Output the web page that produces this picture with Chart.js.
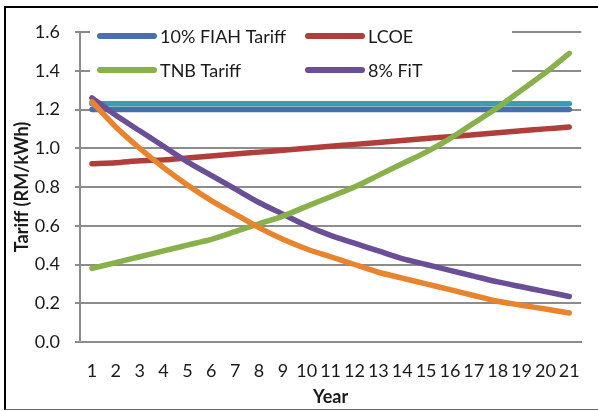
<!DOCTYPE html>
<html lang="en">
<head>
  <meta charset="UTF-8">
  <title>Tariff by Year</title>
  <style>
    body { margin: 0; background: #fff; }
    #wrap { position: relative; width: 598px; height: 411px; overflow: hidden; }
    /* outer frame: black left/top, grey bottom, open on the right */
    #frame {
      position: absolute; left: 4px; top: 6px; width: 600px; height: 401px;
      border-left: 2px solid #000; border-top: 2px solid #000; border-bottom: 1px solid #666;
      pointer-events: none;
    }
  </style>
</head>
<body>
  <div id="wrap">
    <canvas id="tariffChart" width="598" height="411"></canvas>
    <div id="frame"></div>
  </div>

  <script src="https://cdn.jsdelivr.net/npm/chart.js"></script>
  <script>
    // Data
    const years = ['1','2','3','4','5','6','7','8','9','10','11','12','13','14','15','16','17','18','19','20','21'];
    const fiahTariff = [1.20,1.20,1.20,1.20,1.20,1.20,1.20,1.20,1.20,1.20,1.20,1.20,1.20,1.20,1.20,1.20,1.20,1.20,1.20,1.20,1.20];
    const fiahUpper  = [1.23,1.23,1.23,1.23,1.23,1.23,1.23,1.23,1.23,1.23,1.23,1.23,1.23,1.23,1.23,1.23,1.23,1.23,1.23,1.23,1.23];
    const lcoe       = [0.92,0.925,0.935,0.94,0.95,0.96,0.97,0.98,0.99,1.00,1.01,1.02,1.03,1.04,1.05,1.06,1.07,1.08,1.09,1.10,1.11];
    const tnbTariff  = [0.38,0.41,0.44,0.47,0.50,0.53,0.57,0.61,0.65,0.70,0.75,0.80,0.86,0.92,0.98,1.05,1.13,1.21,1.30,1.39,1.49];
    const fitTariff  = [1.26,1.17,1.09,1.01,0.93,0.86,0.79,0.72,0.66,0.60,0.55,0.51,0.47,0.43,0.40,0.37,0.34,0.31,0.285,0.26,0.235];
    const fitLower   = [1.24,1.11,1.00,0.90,0.81,0.73,0.66,0.59,0.53,0.48,0.44,0.40,0.36,0.33,0.30,0.27,0.24,0.21,0.19,0.17,0.15];

    const yTicks = ['0.0','0.2','0.4','0.6','0.8','1.0','1.2','1.4','1.6'];
    const legendOrder = ['10% FIAH Tariff', 'LCOE', 'TNB Tariff', '8% FiT'];

    const FONT = 'Lato, "Open Sans", sans-serif';
    const TEXT = '#1a1a1a';
    const GRID = '#8c8c8c';

    // Legend drawn inside the plot, on a white box over the top gridlines
    const overlayLegend = {
      id: 'overlayLegend',
      beforeDatasetsDraw(chart) {
        const ctx = chart.ctx;
        ctx.save();
        ctx.fillStyle = '#fff';
        ctx.fillRect(90, 17, 422, 71);
        const cols = [100, 308];
        const rows = [36, 70];
        legendOrder.forEach((name, i) => {
          const ds = chart.data.datasets.find(d => d.label === name);
          const x = cols[i % 2], y = rows[Math.floor(i / 2)];
          ctx.strokeStyle = ds.borderColor;
          ctx.lineWidth = 6;
          ctx.lineCap = 'round';
          ctx.beginPath();
          ctx.moveTo(x, y);
          ctx.lineTo(x + 54, y);
          ctx.stroke();
          ctx.fillStyle = TEXT;
          ctx.font = '18px ' + FONT;
          ctx.textBaseline = 'middle';
          ctx.fillText(name, x + 60, y + 1);
        });
        ctx.restore();
      }
    };

    const line = (label, data, color) => ({
      label, data, borderColor: color, backgroundColor: color,
      borderWidth: 5.5, fill: false, pointRadius: 0
    });

    const ctx = document.getElementById('tariffChart').getContext('2d');
    new Chart(ctx, {
      type: 'line',
      data: {
        labels: years,
        // earlier datasets are painted on top
        datasets: [
          line('', fitLower, '#e8832e'),
          line('TNB Tariff', tnbTariff, '#88b04b'),
          line('8% FiT', fitTariff, '#6b4f96'),
          line('LCOE', lcoe, '#b03f3c'),
          line('', fiahUpper, '#3c9cb4'),
          line('10% FIAH Tariff', fiahTariff, '#4a6fae')
        ]
      },
      options: {
        responsive: false,
        animation: false,
        layout: { padding: { top: 32, right: 12, left: 0, bottom: 0 } },
        elements: { line: { tension: 0.25, borderCapStyle: 'round', borderJoinStyle: 'round' } },
        plugins: { legend: { display: false }, tooltip: { enabled: false } },
        scales: {
          x: {
            offset: true,
            grid: { display: false, drawTicks: false },
            border: { color: GRID, width: 2 },
            ticks: { padding: 18, color: TEXT, font: { family: FONT, size: 18 }, maxRotation: 0, autoSkip: false },
            title: { display: true, text: 'Year', color: TEXT, font: { family: FONT, size: 18, weight: 'bold' }, padding: { top: 0, bottom: 3 } },
            afterFit: s => { s.height = 69; }
          },
          y: {
            min: 0, max: 1.6,
            ticks: { stepSize: 0.2, padding: 15, color: TEXT, font: { family: FONT, size: 18 },
                     callback: (v, i) => yTicks[i] },
            grid: { color: GRID, lineWidth: 2, tickLength: 5 },
            border: { color: GRID, width: 2 },
            title: { display: true, text: 'Tariff (RM/kWh)', color: TEXT, font: { family: FONT, size: 18, weight: 'bold' }, padding: { top: 11, bottom: 0 } },
            afterFit: s => { s.width = 80; }
          }
        }
      },
      plugins: [overlayLegend]
    });
  </script>
</body>
</html>
